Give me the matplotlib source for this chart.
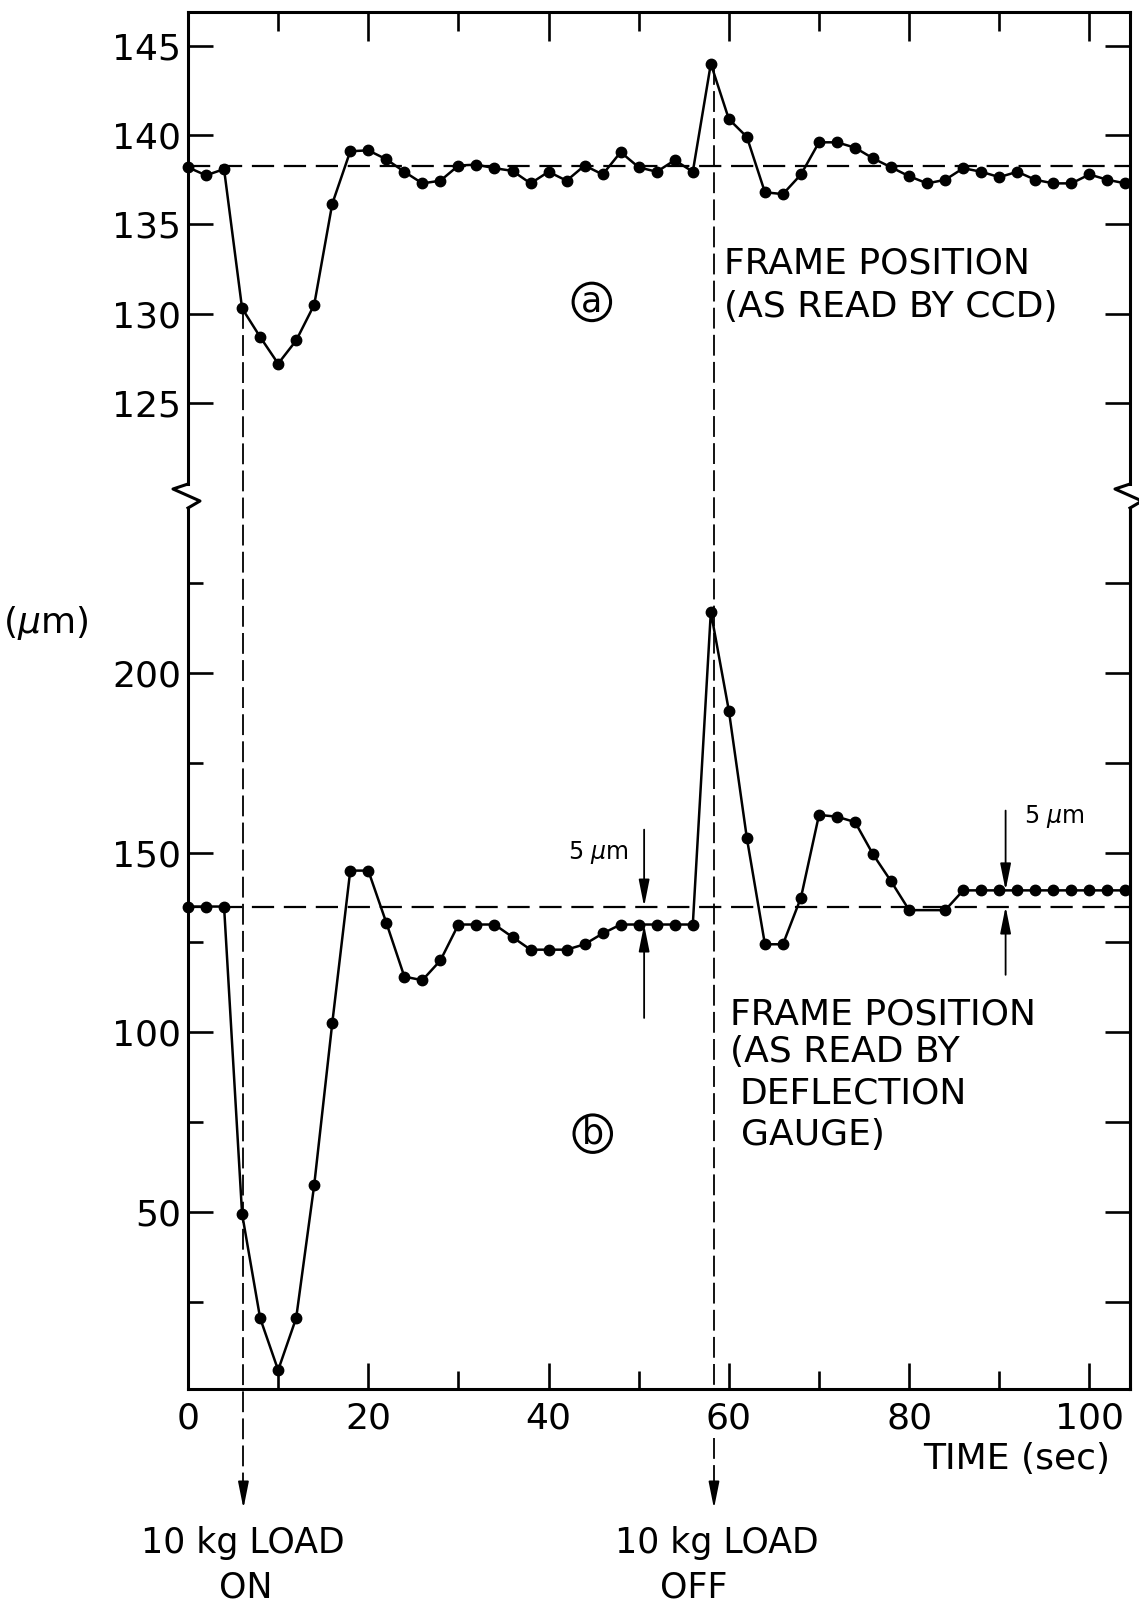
import matplotlib.pyplot as plt
from matplotlib.lines import Line2D

plt.rcParams['font.family'] = 'DejaVu Sans'
plt.rcParams['lines.scale_dashes'] = False

# (a) frame position as read by the CCD, one reading every 2 s
time_a = [0, 2, 4, 6, 8, 10, 12, 14, 16, 18, 20, 22, 24, 26, 28, 30, 32, 34,
          36, 38, 40, 42, 44, 46, 48, 50, 52, 54, 56, 58, 60, 62, 64, 66, 68,
          70, 72, 74, 76, 78, 80, 82, 84, 86, 88, 90, 92, 94, 96, 98, 100,
          102, 104]
frame_a = [138.2, 137.75, 138.1, 130.3, 128.7, 127.2, 128.5, 130.5, 136.15,
           139.1, 139.15, 138.65, 137.95, 137.3, 137.45, 138.3, 138.35, 138.15,
           138.0, 137.3, 137.95, 137.45, 138.3, 137.8, 139.05, 138.2, 137.95,
           138.6, 137.95, 144.0, 140.9, 139.9, 136.8, 136.7, 137.8, 139.6,
           139.6, 139.3, 138.7, 138.2, 137.7, 137.3, 137.5, 138.15, 137.95,
           137.65, 137.95, 137.5, 137.3, 137.3, 137.8, 137.5, 137.3]
ref_a = 138.25

# (b) frame position as read by the deflection gauge
time_b = [0, 2, 4, 6, 8, 10, 12, 14, 16, 18, 20, 22, 24, 26, 28, 30, 32, 34,
          36, 38, 40, 42, 44, 46, 48, 50, 52, 54, 56, 58, 60, 62, 64, 66, 68,
          70, 72, 74, 76, 78, 80, 84, 86, 88, 90, 92, 94, 96, 98, 100, 102, 104]
frame_b = [135, 135, 135, 49.5, 20.5, 6, 20.5, 57.5, 102.5, 145, 145, 130.5,
           115.5, 114.5, 120, 130, 130, 130, 126.5, 123, 123, 123, 124.5, 127.5,
           130, 130, 130, 130, 130, 217, 189.5, 154, 124.5, 124.5, 137.5, 160.5,
           160, 158.5, 149.5, 142, 134, 134, 139.5, 139.5, 139.5, 139.5, 139.5,
           139.5, 139.5, 139.5, 139.5, 139.5]
ref_b = 135

load_on, load_off = 6.15, 58.35

W, H = 1139, 1605
fig = plt.figure(figsize=(W / 100, H / 100), dpi=100)


def frame(left, top, right, bottom):
    return [left / W, 1 - bottom / H, (right - left) / W, (bottom - top) / H]


ax_a = fig.add_axes(frame(188, 12, 1130, 484))
ax_b = fig.add_axes(frame(188, 508, 1130, 1389))

for ax in (ax_a, ax_b):
    ax.set_xlim(0, 104.5)
    for s in ax.spines.values():
        s.set_linewidth(2.2)
ax_a.set_ylim(120.46, 146.9)
ax_b.set_ylim(0.75, 245.9)
ax_a.spines['bottom'].set_visible(False)
ax_b.spines['top'].set_visible(False)

tk = dict(direction='in', width=1.9, colors='k')

# top panel ticks
ax_a.xaxis.set_ticks_position('top')
ax_a.set_xticks([20, 40, 60, 80, 100])
ax_a.set_xticks([10, 30, 50, 70, 90], minor=True)
ax_a.tick_params(axis='x', which='major', length=21, labeltop=False,
                 labelbottom=False, **tk)
ax_a.tick_params(axis='x', which='minor', length=14, **tk)
ax_a.set_yticks([125, 130, 135, 140, 145])
ax_a.tick_params(axis='y', which='major', length=18, left=True, right=True,
                 labelsize=26, pad=5, **tk)

# bottom panel ticks
ax_b.xaxis.set_ticks_position('bottom')
ax_b.set_xticks([0, 20, 40, 60, 80, 100])
ax_b.set_xticklabels(['0', '20', '40', '60', '80', '100'])
ax_b.set_xticks([10, 30, 50, 70, 90], minor=True)
ax_b.tick_params(axis='x', which='major', length=19, labelsize=26, pad=9, **tk)
ax_b.tick_params(axis='x', which='minor', length=13, **tk)
ax_b.set_yticks([50, 100, 150, 200])
ax_b.set_yticks([25, 75, 125, 175, 225], minor=True)
ax_b.tick_params(axis='y', which='major', length=18, right=False,
                 labelsize=26, pad=5, **tk)
ax_b.tick_params(axis='y', which='minor', length=11, right=False, **tk)
sec = ax_b.secondary_yaxis('right')
sec.set_yticks([25, 50, 75, 100, 125, 150, 175, 200, 225])
sec.tick_params(length=18, labelright=False, **tk)
sec.spines['right'].set_linewidth(2.2)

# axis break marks
for x0 in (188, 1130):
    px = [x0, x0 - 15, x0 + 12, x0]
    py = [484, 489, 501, 508]
    fig.add_artist(Line2D([p / W for p in px], [1 - p / H for p in py],
                          transform=fig.transFigure, color='k', lw=2.2))

# data
line_kw = dict(color='k', lw=1.8, marker='o', ms=7.5, clip_on=False, zorder=3)
ax_a.plot(time_a, frame_a, **line_kw)
ax_b.plot(time_b, frame_b, **line_kw)
ax_a.axhline(ref_a, color='k', lw=1.6, dashes=(16, 7))
ax_b.axhline(ref_b, color='k', lw=1.6, dashes=(16, 7))


def to_b(t, v):
    disp = ax_a.transData.transform((t, v))
    return ax_b.transData.inverted().transform(disp)[1]


vkw = dict(color='k', lw=1.3, dashes=(15, 4.5), clip_on=False, zorder=2)
ax_b.plot([load_on, load_on], [to_b(6, frame_a[3]), -27], **vkw)
ax_b.plot([load_off, load_off], [to_b(58, frame_a[29]), 0.75], **vkw)
ax_b.plot([load_off, load_off], [-13, -27], **vkw)

head = dict(arrowstyle='-|>,head_width=0.18,head_length=0.9', color='k',
            lw=1.3, mutation_scale=18, shrinkA=0, shrinkB=0)
for t in (load_on, load_off):
    ax_b.annotate('', xy=(t, -32.5), xytext=(t, -26), arrowprops=head,
                  annotation_clip=False)

# 5 um markers
ax_b.annotate('', xy=(50.6, ref_b), xytext=(50.6, 156.4), arrowprops=head)
ax_b.annotate('', xy=(50.6, 130), xytext=(50.6, 104), arrowprops=head)
ax_b.annotate('', xy=(90.7, 139.5), xytext=(90.7, 161.7), arrowprops=head)
ax_b.annotate('', xy=(90.7, ref_b), xytext=(90.7, 116), arrowprops=head)
ax_b.text(45.5, 150.1, '5 $\\mu$m', fontsize=17, ha='center', va='center')
ax_b.text(96.1, 160.1, '5 $\\mu$m', fontsize=17, ha='center', va='center')

# labels
fs = 26
ax_a.text(59.46, 132.8, 'FRAME POSITION', fontsize=fs, ha='left', va='center')
ax_a.text(59.46, 130.4, '(AS READ BY CCD)', fontsize=fs, ha='left',
          va='center')
ax_a.text(44.8, 130.66, 'a', fontsize=25, ha='center', va='center',
          bbox=dict(boxstyle='circle,pad=0.05', fc='none', ec='k', lw=2.2))

ax_b.text(60.1, 104.9, 'FRAME POSITION', fontsize=fs, ha='left', va='center')
ax_b.text(60.1, 94.4, '(AS READ BY', fontsize=fs, ha='left', va='center')
ax_b.text(61.2, 82.9, 'DEFLECTION', fontsize=fs, ha='left', va='center')
ax_b.text(61.3, 71.5, 'GAUGE)', fontsize=fs, ha='left', va='center')
ax_b.text(44.9, 71.8, 'b', fontsize=25, ha='center', va='center',
          bbox=dict(boxstyle='circle,pad=0.05', fc='none', ec='k', lw=2.2))

ax_b.text(-15.75, 214, '($\\mu$m)', fontsize=fs, ha='center', va='center')
ax_b.text(91.9, -18.6, 'TIME (sec)', fontsize=fs, ha='center', va='center')
ax_b.text(6.1, -42, '10 kg LOAD', fontsize=25, ha='center', va='center')
ax_b.text(6.4, -54.5, 'ON', fontsize=25, ha='center', va='center')
ax_b.text(58.7, -42, '10 kg LOAD', fontsize=25, ha='center', va='center')
ax_b.text(56.1, -54.5, 'OFF', fontsize=25, ha='center', va='center')

fig.savefig('out.png', dpi=100)
